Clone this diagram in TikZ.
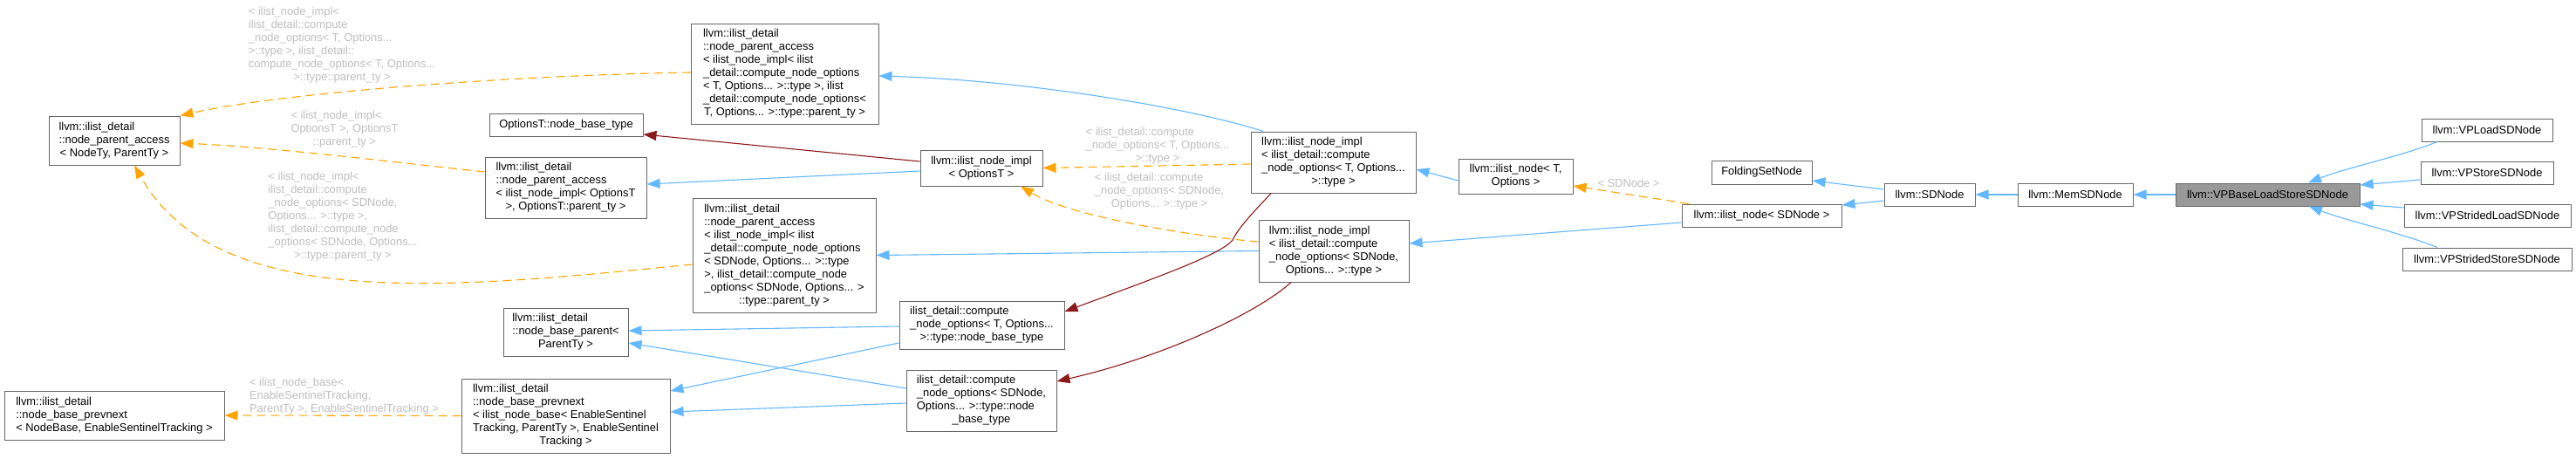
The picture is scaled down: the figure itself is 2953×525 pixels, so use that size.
\documentclass[tikz,border=0pt]{standalone}
\usepackage{fontspec}
\setmainfont{Liberation Sans}
\usetikzlibrary{arrows.meta}
\definecolor{nodeborder}{HTML}{666666}
\definecolor{hlfill}{HTML}{999999}
\definecolor{inhblue}{HTML}{63B8FF}
\definecolor{usered}{HTML}{8B1A1A}
\definecolor{tmplorange}{HTML}{FFA500}
\definecolor{lblgray}{HTML}{BEBEBE}
\newcommand{\ml}[2]{\begin{tabular}{@{}l@{}}#1\\\multicolumn{1}{@{}c@{}}{#2}\end{tabular}}
\begin{document}
\begin{tikzpicture}[x=1pt,y=1pt,
  font=\fontsize{12.9}{15}\selectfont,
  cls/.style={draw=nodeborder, fill=white, line width=1pt, inner sep=0pt},
  hlcls/.style={cls, fill=hlfill},
  inhedge/.style={draw=inhblue, line width=1.1pt, -{Triangle[length=15pt,width=11pt]}},
  useedge/.style={draw=usered, line width=1.1pt, -{Triangle[length=15pt,width=11pt]}},
  tmpledge/.style={draw=tmplorange, line width=1.1pt, dash pattern=on 10pt off 6pt, -{Triangle[length=15pt,width=11pt]}},
  elabel/.style={text=lblgray, inner sep=0pt}]
\fill[white] (0,0) rectangle (2953,-525);
\useasboundingbox (0,0) rectangle (2953,-525);

% nodes
\node[cls, minimum width=150pt, minimum height=56pt] (npaGen) at (131,-161)
  {\ml{llvm::ilist\_detail\\::node\_parent\_access}{< NodeTy, ParentTy >}};
\node[cls, minimum width=252pt, minimum height=56pt] (prevGen) at (131,-476)
  {\ml{llvm::ilist\_detail\\::node\_base\_prevnext}{< NodeBase, EnableSentinelTracking >}};
\node[cls, minimum width=215pt, minimum height=115pt] (npaT) at (899.5,-84.5)
  {\ml{llvm::ilist\_detail\\::node\_parent\_access\\< ilist\_node\_impl< ilist\\\_detail::compute\_node\_options\\< T, Options... >::type >, ilist\\\_detail::compute\_node\_options<}{T, Options... >::type::parent\_ty >}};
\node[cls, minimum width=176pt, minimum height=26pt] (obase) at (649,-143)
  {OptionsT::node\_base\_type};
\node[cls, minimum width=185pt, minimum height=70pt] (npaO) at (648.5,-215)
  {\ml{llvm::ilist\_detail\\::node\_parent\_access\\< ilist\_node\_impl< OptionsT}{>, OptionsT::parent\_ty >}};
\node[cls, minimum width=210pt, minimum height=131pt] (npaS) at (899,-292.5)
  {\ml{llvm::ilist\_detail\\::node\_parent\_access\\< ilist\_node\_impl< ilist\\\_detail::compute\_node\_options\\< SDNode, Options... >::type\\>, ilist\_detail::compute\_node\\\_options< SDNode, Options... >}{::type::parent\_ty >}};
\node[cls, minimum width=143pt, minimum height=55pt] (nbp) at (648.5,-380.5)
  {\ml{llvm::ilist\_detail\\::node\_base\_parent<}{ParentTy >}};
\node[cls, minimum width=239pt, minimum height=85pt] (nbpn) at (648.5,-476.5)
  {\ml{llvm::ilist\_detail\\::node\_base\_prevnext\\< ilist\_node\_base< EnableSentinel\\Tracking, ParentTy >, EnableSentinel}{Tracking >}};
\node[cls, minimum width=140pt, minimum height=41pt] (implO) at (1125,-192.5)
  {\ml{llvm::ilist\_node\_impl}{< OptionsT >}};
\node[cls, minimum width=189pt, minimum height=70pt] (implT) at (1528.5,-186)
  {\ml{llvm::ilist\_node\_impl\\< ilist\_detail::compute\\\_node\_options< T, Options...}{>::type >}};
\node[cls, minimum width=172pt, minimum height=71pt] (implS) at (1529,-287.5)
  {\ml{llvm::ilist\_node\_impl\\< ilist\_detail::compute\\\_node\_options< SDNode,}{Options... >::type >}};
\node[cls, minimum width=189pt, minimum height=55pt] (cnoT) at (1125.5,-372.5)
  {\ml{ilist\_detail::compute\\\_node\_options< T, Options...}{>::type::node\_base\_type}};
\node[cls, minimum width=172pt, minimum height=70pt] (cnoS) at (1125,-459)
  {\ml{ilist\_detail::compute\\\_node\_options< SDNode,\\Options... >::type::node}{\_base\_type}};
\node[cls, minimum width=131pt, minimum height=40pt] (nodeT) at (1737.5,-202)
  {\ml{llvm::ilist\_node< T,}{Options >}};
\node[cls, minimum width=183pt, minimum height=26pt] (nodeS) at (2019.5,-247)
  {llvm::ilist\_node< SDNode >};
\node[cls, minimum width=115pt, minimum height=27pt] (fsn) at (2019.5,-197.5)
  {FoldingSetNode};
\node[cls, minimum width=104pt, minimum height=26pt] (sdn) at (2212,-223)
  {llvm::SDNode};
\node[cls, minimum width=132pt, minimum height=26pt] (mem) at (2379,-223)
  {llvm::MemSDNode};
\node[hlcls, minimum width=211pt, minimum height=26pt] (base) at (2599.5,-223)
  {llvm::VPBaseLoadStoreSDNode};
\node[cls, minimum width=150pt, minimum height=26pt] (vpl) at (2851,-149)
  {llvm::VPLoadSDNode};
\node[cls, minimum width=152pt, minimum height=26pt] (vps) at (2851,-198)
  {llvm::VPStoreSDNode};
\node[cls, minimum width=191pt, minimum height=26pt] (vpsl) at (2851.5,-247)
  {llvm::VPStridedLoadSDNode};
\node[cls, minimum width=194pt, minimum height=26pt] (vpss) at (2851,-297)
  {llvm::VPStridedStoreSDNode};

% edge labels
\node[elabel] (lblA) at (392,-51.5)
  {\ml{< ilist\_node\_impl<\\ilist\_detail::compute\\\_node\_options< T, Options...\\>::type >, ilist\_detail::\\compute\_node\_options< T, Options...}{>::type::parent\_ty >}};
\node[elabel] (lblB) at (395,-148)
  {\ml{< ilist\_node\_impl<\\OptionsT >, OptionsT}{::parent\_ty >}};
\node[elabel] (lblC) at (393,-248)
  {\ml{< ilist\_node\_impl<\\ilist\_detail::compute\\\_node\_options< SDNode,\\Options... >::type >,\\ilist\_detail::compute\_node\\\_options< SDNode, Options...}{>::type::parent\_ty >}};
\node[elabel] (lblD) at (1327,-167)
  {\ml{< ilist\_detail::compute\\\_node\_options< T, Options...}{>::type >}};
\node[elabel] (lblE) at (1329,-219)
  {\ml{< ilist\_detail::compute\\\_node\_options< SDNode,}{Options... >::type >}};
\node[elabel] (lblF) at (1867,-210) {< SDNode >};
\node[elabel] (lblG) at (394.5,-454.5)
  {\ml{< ilist\_node\_base<\\EnableSentinelTracking,}{ParentTy >, EnableSentinelTracking >}};

% edges
\draw[inhedge] ([xshift=-80.5pt]implT.north) .. controls (1370,-125) and (1180,-92) .. ([yshift=-2.5pt]npaT.east);
\draw[useedge] ([yshift=7.5pt]implO.west) -- ([yshift=-11pt]obase.east);
\draw[inhedge] ([yshift=-3.5pt]implO.west) -- ([yshift=4pt]npaO.east);
\draw[tmpledge] ([yshift=1.5pt]npaT.west) .. controls (600,-86) and (330,-105) .. (npaGen.north east);
\draw[tmpledge] ([yshift=18pt]npaO.west) .. controls (420,-182) and (300,-168) .. ([yshift=-3pt]npaGen.east);
\draw[tmpledge] ([yshift=-10.5pt]npaS.west) .. controls (520,-330) and (250,-360) .. ([xshift=23pt]npaGen.south);
\draw[tmpledge] ([yshift=-2pt]implT.west) -- (implO.east);
\draw[tmpledge] ([yshift=10.5pt]implS.west) .. controls (1380,-272) and (1230,-250) .. ([xshift=45pt]implO.south);
\draw[inhedge] ([yshift=-5pt]nodeT.west) -- ([yshift=-8pt]implT.east);
\draw[tmpledge] ([xshift=-83.5pt]nodeS.north) -- ([yshift=-11pt]nodeT.east);
\draw[inhedge] ([yshift=-8pt]nodeS.west) -- ([yshift=8.5pt]implS.east);
\draw[inhedge] (implS.west) -- (npaS.east);
\draw[useedge] ([xshift=-71.5pt]implT.south) .. controls (1440,-240) and (1420,-260) .. (1413,-275) .. controls (1400,-292) and (1320,-320) .. ([yshift=15.5pt]cnoT.east);
\draw[useedge] ([xshift=-49pt]implS.south) .. controls (1440,-360) and (1330,-410) .. ([yshift=22pt]cnoS.east);
\draw[inhedge] ([yshift=-1.5pt]cnoT.west) -- ([yshift=1.5pt]nbp.east);
\draw[inhedge] ([yshift=14pt]cnoS.west) -- ([yshift=-12.5pt]nbp.east);
\draw[inhedge] ([yshift=-20.5pt]cnoT.west) -- ([yshift=28.5pt]nbpn.east);
\draw[inhedge] ([yshift=-3pt]cnoS.west) -- ([yshift=4.5pt]nbpn.east);
\draw[tmpledge] (nbpn.west) -- (prevGen.east);
\draw[inhedge] ([yshift=6pt]sdn.west) -- ([yshift=-9.5pt]fsn.east);
\draw[inhedge] ([yshift=-7pt]sdn.west) -- ([yshift=12pt]nodeS.east);
\draw[inhedge] (mem.west) -- (sdn.east);
\draw[inhedge] (base.west) -- (mem.east);
\draw[inhedge] ([xshift=-57pt]vpl.south) .. controls (2750,-180) and (2690,-192) .. ([xshift=46.5pt]base.north);
\draw[inhedge] ([yshift=-8pt]vps.west) -- ([yshift=11pt]base.east);
\draw[inhedge] ([yshift=9pt]vpsl.west) -- ([yshift=-11pt]base.east);
\draw[inhedge] ([xshift=-57pt]vpss.north) .. controls (2750,-266) and (2690,-253) .. ([xshift=47.5pt]base.south);
\end{tikzpicture}
\end{document}
